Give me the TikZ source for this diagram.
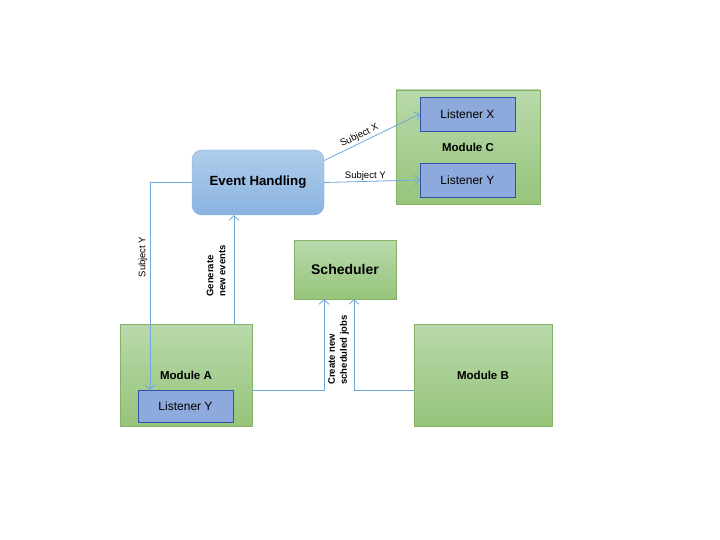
\documentclass[tikz,border=0pt]{standalone}
\usepackage{fontspec}
\setmainfont{Liberation Sans}
\usetikzlibrary{arrows.meta}
\definecolor{greentop}{HTML}{B9D9AB}
\definecolor{greenbot}{HTML}{97C47B}
\definecolor{greenline}{HTML}{82B366}
\definecolor{bluetop}{HTML}{AFCDEC}
\definecolor{bluebot}{HTML}{8AB3E0}
\definecolor{blueline}{HTML}{7EA8D8}
\definecolor{listfill}{HTML}{8EA9DB}
\definecolor{listline}{HTML}{2F52A8}
\definecolor{connblue}{HTML}{6FA8DC}
\tikzset{
  module/.style={draw=greenline, top color=greentop, bottom color=greenbot,
    inner sep=0pt, font=\fontsize{11.5}{13}\selectfont\bfseries},
  listener/.style={draw=listline, fill=listfill, inner sep=0pt,
    minimum width=95pt, minimum height=34pt, font=\fontsize{12}{14}\selectfont},
  conn/.style={draw=connblue, line width=0.8pt, -{Straight Barb[length=4.5pt,width=10pt]}},
  lbl/.style={font=\fontsize{9.5}{11}\selectfont, inner sep=1pt},
  boldlbl/.style={lbl, rotate=90, align=left, font=\fontsize{9.5}{12}\selectfont\bfseries},
}
\begin{document}
\begin{tikzpicture}[x=1pt, y=-1pt]
  \useasboundingbox (0,0) rectangle (720,540);
  % Event handling
  \node[draw=blueline, top color=bluetop, bottom color=bluebot, rounded corners=10pt,
    minimum width=132pt, minimum height=65pt, inner sep=0pt,
    font=\fontsize{13.3}{15}\selectfont\bfseries] (eh) at (258,182.5) {Event Handling};
  % Module C with its listeners
  \node[module, minimum width=144pt, minimum height=114pt] (mc) at (468,147) {Module C};
  \node[listener] (lx) at (467.5,114) {Listener X};
  \node[listener] (lyc) at (467.5,180) {Listener Y};
  % Scheduler
  \node[module, minimum width=102pt, minimum height=59pt,
    font=\fontsize{14}{16}\selectfont\bfseries] (sch) at (345,269.5) {Scheduler};
  % Modules A and B
  \node[module, minimum width=132pt, minimum height=102pt] (ma) at (186,375) {Module A};
  \node[listener, minimum height=32pt] (lya) at (185.5,406) {Listener Y};
  \node[module, minimum width=138pt, minimum height=102pt] (mb) at (483,375) {Module B};
  % Subjects
  \draw[conn] ([yshift=22pt]eh.east) -- (lx.west)
    node[lbl, pos=0.4, above=1pt, sloped] (sx) {Subject X};
  \draw[conn] (eh.east) -- (lyc.west)
    node[lbl, pos=0.43, above] (sy) {Subject Y};
  \draw[conn] (eh.west) -| ([xshift=-35.5pt]lya.north);
  \node[lbl, rotate=90] (sya) at (143,257) {Subject Y};
  % New events and jobs
  \draw[conn] ([xshift=48pt]ma.north) -- ([xshift=48pt]ma.north |- eh.south);
  \node[boldlbl] (gen) at (216,271) {Generate\\new events};
  \draw[conn] ([yshift=-15pt]ma.east) -| ([xshift=-21pt]sch.south);
  \draw[conn] ([yshift=-15pt]mb.west) -| ([xshift=9pt]sch.south);
  \node[boldlbl] (crt) at (338.5,350) {Create new\\scheduled jobs};
\end{tikzpicture}
\end{document}
